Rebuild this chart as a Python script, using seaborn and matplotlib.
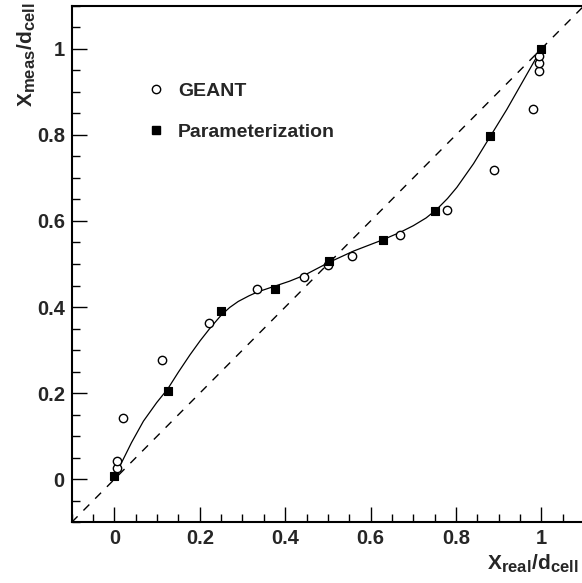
import numpy as np
import pandas as pd
import matplotlib
matplotlib.use("Agg")
import matplotlib.pyplot as plt
import matplotlib._mathtext as _mt
import seaborn as sns
from matplotlib.ticker import MultipleLocator, FuncFormatter
from matplotlib.lines import Line2D

# GEANT simulation points
geant_x = [0.005, 0.005, 0.02, 0.112, 0.222, 0.335, 0.445, 0.501, 0.556, 0.669,
           0.779, 0.889, 0.98, 0.995, 0.995, 0.995]
geant_y = [0.026, 0.043, 0.142, 0.276, 0.364, 0.442, 0.47, 0.498, 0.518, 0.567,
           0.625, 0.719, 0.859, 0.949, 0.967, 0.983]

# Parameterization points
param_x = [0.0, 0.125, 0.25, 0.377, 0.503, 0.628, 0.75, 0.88, 1.0]
param_y = [0.008, 0.205, 0.391, 0.443, 0.506, 0.556, 0.624, 0.798, 1.0]

# Parameterization curve
curve_x = [0.0, 0.02, 0.04, 0.068, 0.099, 0.125, 0.15, 0.177, 0.201, 0.224, 0.25,
           0.27, 0.29, 0.315, 0.335, 0.377, 0.41, 0.445, 0.503, 0.56, 0.628, 0.67,
           0.70, 0.73, 0.755, 0.78, 0.802, 0.841, 0.88, 0.919, 0.95, 0.981, 1.0]
curve_y = [0.008, 0.045, 0.085, 0.135, 0.178, 0.210, 0.249, 0.289, 0.322, 0.351, 0.381,
           0.399, 0.413, 0.426, 0.435, 0.449, 0.460, 0.474, 0.504, 0.530, 0.556, 0.574,
           0.589, 0.607, 0.627, 0.652, 0.678, 0.733, 0.796, 0.859, 0.913, 0.967, 1.0]

# diagonal reference line
diag = [-0.1, 1.1]

sns.set_theme(style="ticks")
plt.rcParams["font.family"] = ["Liberation Sans", "DejaVu Sans"]
plt.rcParams["font.weight"] = "bold"
plt.rcParams["mathtext.fontset"] = "custom"
plt.rcParams["mathtext.rm"] = "Liberation Sans:bold"
plt.rcParams["mathtext.bf"] = "Liberation Sans:bold"
plt.rcParams["mathtext.it"] = "Liberation Sans:bold"
_mt.SHRINK_FACTOR = 0.8

W, H = 582, 583
fig = plt.figure(figsize=(W / 100, H / 100), dpi=100)
fig.patch.set_facecolor("white")
ax = fig.add_axes([71.7 / W, 60.7 / H, 512.4 / W, 516.6 / H])
ax.set_facecolor("white")

sns.lineplot(x=diag, y=diag, ax=ax, color="black", lw=1.0,
             linestyle=(0, (6, 6)), sort=False)
sns.lineplot(x=curve_x, y=curve_y, ax=ax, color="black", lw=0.9, sort=False)
sns.scatterplot(x=geant_x, y=geant_y, ax=ax, marker="o", s=36,
                facecolor="white", edgecolor="black", linewidth=1.0, zorder=3)
sns.scatterplot(x=param_x, y=param_y, ax=ax, marker="s", s=34,
                color="black", edgecolor="black", linewidth=0.8, zorder=4)

ax.set_xlim(-0.1, 1.1)
ax.set_ylim(-0.1, 1.1)
ax.set_xlabel("")
ax.set_ylabel("")

fmt = FuncFormatter(lambda v, p: "%g" % round(v, 3))
for axis in (ax.xaxis, ax.yaxis):
    axis.set_major_locator(MultipleLocator(0.2))
    axis.set_minor_locator(MultipleLocator(0.05))
    axis.set_major_formatter(fmt)

ax.tick_params(which="major", direction="in", length=11, width=1.0,
               labelsize=14.5, pad=5, top=False, right=False, color="black")
ax.tick_params(which="minor", direction="in", length=6, width=1.0,
               top=False, right=False, color="black")
for lab in ax.get_xticklabels() + ax.get_yticklabels():
    lab.set_fontweight("bold")

for sp in ax.spines.values():
    sp.set_linewidth(1.5)
    sp.set_color("black")
    sp.set_visible(True)

handles = [
    Line2D([], [], marker="o", linestyle="none", markersize=6,
           markerfacecolor="white", markeredgecolor="black", markeredgewidth=1.0),
    Line2D([], [], marker="s", linestyle="none", markersize=6,
           markerfacecolor="black", markeredgecolor="black"),
]
ax.legend(handles, ["GEANT", "Parameterization"], loc="upper left",
          bbox_to_anchor=(146.3 / W, 1 - 82 / H), bbox_transform=fig.transFigure,
          frameon=False, borderpad=0, borderaxespad=0, handlelength=1.0,
          handletextpad=0.63, labelspacing=1.2,
          prop={"size": 14, "weight": "bold"})

fig.text(27 / W, 1 - 2 / H, r"$\mathrm{X_{meas}/d_{cell}}$", rotation=90,
         ha="center", va="top", fontsize=15)
fig.text(579 / W, 1 - 570 / H, r"$\mathrm{X_{real}/d_{cell}}$",
         ha="right", va="baseline", fontsize=15)

fig.savefig("out.png", dpi=100, facecolor="white")
